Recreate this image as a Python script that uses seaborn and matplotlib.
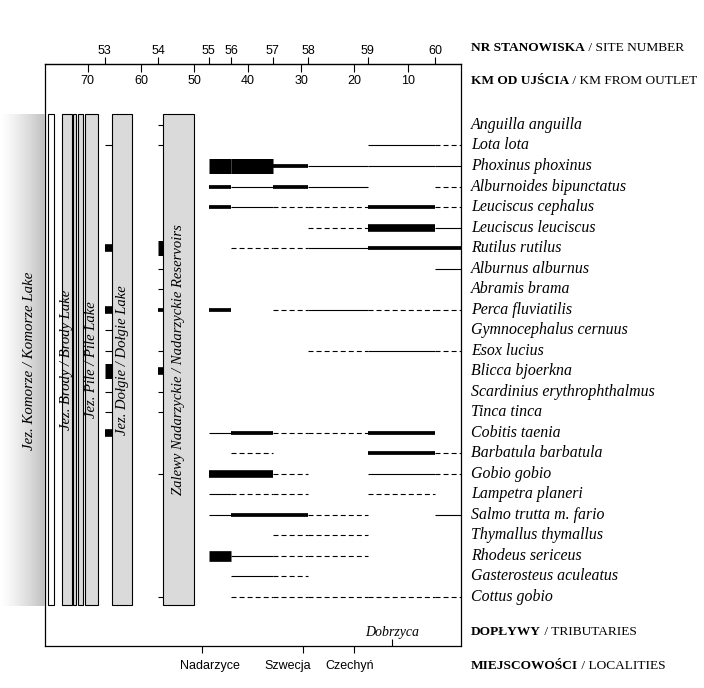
import numpy as np
import pandas as pd
import matplotlib
matplotlib.use("Agg")
import matplotlib.pyplot as plt
import seaborn as sns

# ---------------- data ----------------
species = [
    "Anguilla anguilla", "Lota lota", "Phoxinus phoxinus", "Alburnoides bipunctatus",
    "Leuciscus cephalus", "Leuciscus leuciscus", "Rutilus rutilus", "Alburnus alburnus",
    "Abramis brama", "Perca fluviatilis", "Gymnocephalus cernuus", "Esox lucius",
    "Blicca bjoerkna", "Scardinius erythrophthalmus", "Tinca tinca", "Cobitis taenia",
    "Barbatula barbatula", "Gobio gobio", "Lampetra planeri", "Salmo trutta m. fario",
    "Thymallus thymallus", "Rhodeus sericeus", "Gasterosteus aculeatus", "Cottus gobio",
]
site_numbers = [53, 54, 55, 56, 57, 58, 59, 60]
site_km = [66.8, 56.8, 47.3, 43.1, 35.3, 28.7, 17.5, 4.8]
river_end_km = 0.0
km_ticks = [70, 60, 50, 40, 30, 20, 10]
localities = ["Nadarzyce", "Szwecja", "Czechyń"]
locality_km = [48.6, 29.6, 20.1]
locality_label_km = [47.1, 32.5, 20.9]
tributaries = ["Dobrzyca"]
tributary_km = [12.9]

# classes: '.' absent, 'd' dashed, 's' thin, 'm' medium, 't' thick, 'r' thicker, 'v' very thick
# river intervals: 55-56, 56-57, 57-58, 58-59, 59-60, 60-outlet
river_codes = [
    "......", "....sd", "vvmsss", "msms.d", "msddmd", "...dts",
    ".ddsmm", ".....s", "......", "m.dsdd", "......", "...dsd",
    "......", "......", "......", "smddm.", ".d..md", "ttd.sd",
    "sdd.d.", "smmd.s", "..dd..", "rsdd..", ".sd...", ".ddddd",
]
site53_codes = ".s....t..tssvsst........"
site54_codes = "ss....vssm.stss..s.....s"

lake_labels = ["", "Jez. Brody / Brody Lake", "", "", "Jez. Pile / Pile Lake",
               "Jez. Dołgie / Dołgie Lake", "Zalewy Nadarzyckie / Nadarzyckie Reservoirs"]
lake_up_km = [77.4, 74.85, 72.8, 71.9, 70.45, 65.4, 55.8]
lake_down_km = [76.4, 73.0, 72.2, 70.8, 68.0, 61.6, 50.0]
lake_is_grey = [False, True, True, True, True, True, True]
lake_first_row, lake_last_row = -0.52, 23.4

# ---------------- build segment table ----------------
rows = []
seg = 0
def add(i, k0, k1, c):
    global seg
    if c == ".":
        return
    rows.append((seg, k0, i, c))
    rows.append((seg, k1, i, c))
    seg += 1

bounds = site_km[2:] + [river_end_km]
for i, sp in enumerate(species):
    add(i, site_km[0], lake_up_km[5], site53_codes[i])
    add(i, site_km[1], lake_up_km[6], site54_codes[i])
    for j, c in enumerate(river_codes[i]):
        add(i, bounds[j], bounds[j + 1], c)
df = pd.DataFrame(rows, columns=["seg", "km", "row", "cls"])

# ---------------- style ----------------
sns.set_style("white")
plt.rcParams["lines.solid_capstyle"] = "butt"
plt.rcParams["lines.dash_capstyle"] = "butt"
plt.rcParams["lines.scale_dashes"] = False
plt.rcParams["font.family"] = ["DejaVu Sans"]
plt.rcParams["text.color"] = "black"
plt.rcParams["xtick.color"] = "black"
plt.rcParams["xtick.labelcolor"] = "black"

SERIF = "Liberation Serif"
SANS = "Liberation Sans"

W, H = 704, 688
fig = plt.figure(figsize=(W / 100, H / 100), dpi=100)
ax = fig.add_axes([45 / W, 1 - 646 / H, 416 / W, 582 / H])

# gradient at far left (Komorze Lake)
gax = fig.add_axes([0, 1 - 606 / H, 45 / W, 492 / H])
t = np.linspace(0, 1, 200)
grad = 1 - 0.25 * t ** 1.3
gax.imshow(grad[None, :], cmap="gray", vmin=0, vmax=1, aspect="auto")
gax.axis("off")
fig.text(30 / W, 1 - 361 / H, "Jez. Komorze / Komorze Lake", rotation=90,
         ha="center", va="center", fontsize=10.7, family=SERIF, style="italic")

# lakes
for up, dn, g, lab in zip(lake_up_km, lake_down_km, lake_is_grey, lake_labels):
    ax.bar(x=up, height=lake_last_row - lake_first_row, width=dn - up, bottom=lake_first_row,
           align="edge", color="#dadada" if g else "white", edgecolor="black",
           linewidth=0.8, zorder=1)
    if lab:
        ax.text((up + dn) / 2, (lake_first_row + lake_last_row) / 2, lab, rotation=90,
                ha="center", va="center", fontsize=10.5, family=SERIF, style="italic", zorder=3)

lw_map = {"d": 0.8, "s": 0.8, "m": 2.7, "t": 5.5, "r": 7.7, "v": 10.8}
dash_map = {"d": (3.6, 2.2), "s": "", "m": "", "t": "", "r": "", "v": ""}
levels = [c for c in lw_map if c in set(df["cls"])]
sns.lineplot(data=df, x="km", y="row", units="seg", estimator=None, sort=False,
             size="cls", sizes={c: lw_map[c] for c in levels},
             style="cls", dashes={c: dash_map[c] for c in levels},
             color="black", legend=False, ax=ax, zorder=4)

ax.set_xlim(78.0, 0.0)
ax.set_ylim(25.39, -2.97)
ax.set_xlabel("")
ax.set_ylabel("")
ax.set_yticks([])
for s in ax.spines.values():
    s.set_visible(True)
    s.set_color("black")
    s.set_linewidth(0.9)

# bottom: localities
ax.set_xticks(locality_km, [""] * len(locality_km))
ax.tick_params(axis="x", bottom=True, direction="out", length=5.2, width=0.8)
for name, k in zip(localities, locality_label_km):
    ax.text(k, -0.034, name, transform=ax.get_xaxis_transform(), ha="center",
            va="center", fontsize=9, family=SANS)

# bottom inside: tributary
trib = ax.secondary_xaxis("bottom")
trib.set_xticks(tributary_km, tributaries)
trib.tick_params(direction="in", length=5.2, width=0.8, pad=-14.6, labelsize=10)
for lb in trib.get_xticklabels():
    lb.set_family(SERIF)
    lb.set_style("italic")
trib.spines["bottom"].set_visible(False)

# top inside: km from outlet
kmax = ax.secondary_xaxis("top")
kmax.set_xticks(km_ticks, [str(k) for k in km_ticks])
kmax.tick_params(direction="in", length=6, width=0.8, pad=-16.5, labelsize=9)
for lb in kmax.get_xticklabels():
    lb.set_family(SANS)

# top outside: site numbers
siteax = ax.secondary_xaxis("top")
siteax.set_xticks(site_km, [str(n) for n in site_numbers])
siteax.tick_params(direction="out", length=5.4, width=0.8, pad=-0.4, labelsize=9)
for lb in siteax.get_xticklabels():
    lb.set_family(SANS)

# species labels
for i, sp in enumerate(species):
    ax.text(1.024, i, sp, transform=ax.get_yaxis_transform(), ha="left", va="center",
            fontsize=11.4, family=SERIF, style="italic")

# headers
renderer = fig.canvas.get_renderer()
def header(y, bold, normal):
    t1 = fig.text(471 / W, 1 - y / H, bold, ha="left", va="center", fontsize=9.6,
                  family=SERIF, weight="bold")
    bb = t1.get_window_extent(renderer)
    fig.text(bb.x1 / W, 1 - y / H, " / " + normal, ha="left", va="center",
             fontsize=9.6, family=SERIF)

header(48, "NR STANOWISKA", "SITE NUMBER")
header(81, "KM OD UJŚCIA", "KM FROM OUTLET")
header(632, "DOPŁYWY", "TRIBUTARIES")
header(666, "MIEJSCOWOŚCI", "LOCALITIES")

fig.savefig("out.png", dpi=100)
